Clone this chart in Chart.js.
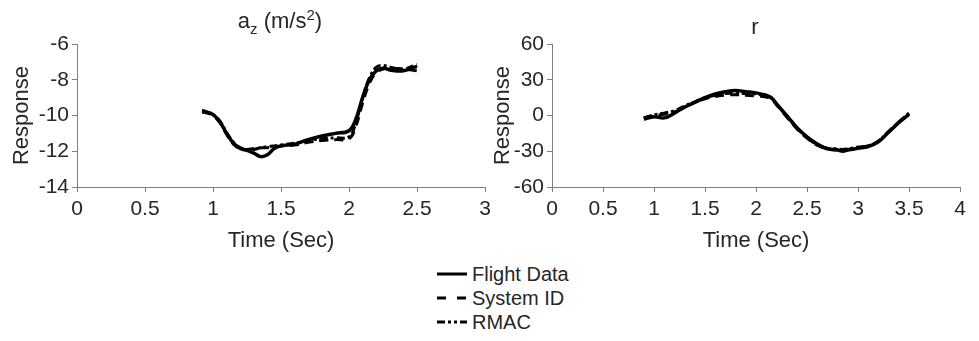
<!DOCTYPE html>
<html>
<head>
<meta charset="utf-8">
<script src="https://cdn.jsdelivr.net/npm/chart.js@4/dist/chart.umd.min.js"></script>
<style>
  body { margin: 0; background: #fff; font-family: "Liberation Sans", Arial, sans-serif; color: #262626; }
  #wrap { position: relative; width: 979px; height: 341px; overflow: hidden; }
  .box { position: absolute; top: 0; height: 260px; }
  .ttl { position: absolute; font-size: 22px; white-space: nowrap; transform: translateX(-50%); }
  .ttl sub, .ttl sup { font-size: 15px; }
  #legend { position: absolute; left: 436px; top: 262px; font-size: 20px; }
  #legend div { height: 24px; line-height: 24px; display: flex; align-items: center; }
  #legend svg { margin-right: 4px; }
</style>
</head>
<body>
<div id="wrap">
  <div class="box" style="left:0;width:500px"><canvas id="cAz"></canvas></div>
  <div class="box" style="left:490px;width:489px"><canvas id="cR"></canvas></div>
  <div class="ttl" style="left:280px;top:6px">a<sub>z</sub> (m/s<sup>2</sup>)</div>
  <div class="ttl" style="left:755px;top:14px">r</div>
  <div id="legend">
    <div><svg width="32" height="6"><line x1="1" y1="3" x2="31" y2="3" stroke="#000" stroke-width="3"/></svg>Flight Data</div>
    <div><svg width="32" height="6"><line x1="1" y1="3" x2="31" y2="3" stroke="#000" stroke-width="3" stroke-dasharray="9,11"/></svg>System ID</div>
    <div><svg width="32" height="6"><line x1="1" y1="3" x2="31" y2="3" stroke="#000" stroke-width="3" stroke-dasharray="8,3,3,3,3,3"/></svg>RMAC</div>
  </div>
</div>
<script>
// a_z panel
var timeAz = [0.92, 0.95, 1.0, 1.05, 1.1, 1.15, 1.2, 1.25, 1.3, 1.35, 1.4, 1.45, 1.5, 1.6, 1.7, 1.8, 1.9, 2.0, 2.05, 2.1, 2.15, 2.2, 2.25, 2.3, 2.4, 2.5];
var flightAz = [-9.75, -9.8, -9.95, -10.35, -11.0, -11.55, -11.85, -11.95, -12.1, -12.3, -12.2, -11.85, -11.7, -11.6, -11.35, -11.15, -11.0, -10.85, -10.2, -9.0, -8.0, -7.5, -7.35, -7.45, -7.5, -7.25];
var sysIdAz = [-9.8, -9.85, -10.0, -10.4, -11.05, -11.6, -11.85, -11.9, -11.85, -11.8, -11.8, -11.75, -11.7, -11.65, -11.5, -11.4, -11.35, -11.3, -10.6, -9.3, -8.2, -7.6, -7.4, -7.35, -7.4, -7.5];
var rmacAz = [-9.7, -9.8, -9.95, -10.3, -10.95, -11.5, -11.8, -11.9, -11.9, -11.8, -11.75, -11.7, -11.65, -11.55, -11.4, -11.3, -11.25, -11.2, -10.4, -9.0, -7.9, -7.3, -7.2, -7.3, -7.4, -7.15];

// r panel
var timeR = [0.9, 1.0, 1.1, 1.2, 1.3, 1.4, 1.5, 1.6, 1.7, 1.8, 1.9, 2.0, 2.1, 2.15, 2.2, 2.3, 2.4, 2.5, 2.6, 2.7, 2.8, 2.85, 2.9, 3.0, 3.1, 3.2, 3.3, 3.4, 3.5];
var flightR = [-3, -1, -2, 2, 7, 11, 15, 18, 20, 21, 20, 19, 17, 15, 10, 0, -10, -18, -24, -28, -29, -30, -29, -27.5, -26, -22, -14, -6, 1];
var sysIdR = [-2, 0, 1, 3, 7, 11, 14, 16, 17, 17.5, 17, 16.5, 15.5, 14, 9, -1, -11, -19, -25, -28, -28.5, -29, -28.5, -27, -25.5, -21.5, -13.5, -5.5, 1.5];
var rmacR = [-2, 0.5, 2, 4, 8, 11.5, 15, 17, 18.5, 19, 18.5, 18, 16.5, 14.5, 9.5, -0.5, -10.5, -18.5, -24.5, -27.5, -28, -28.5, -28, -26.5, -25.5, -21.5, -13.5, -5.5, 2];

var xTicksAz = [0, 0.5, 1, 1.5, 2, 2.5, 3];
var yTicksAz = [-14, -12, -10, -8, -6];
var xTicksR = [0, 0.5, 1, 1.5, 2, 2.5, 3, 3.5, 4];
var yTicksR = [-60, -30, 0, 30, 60];

var axisCol = '#7f7f7f';
var txtCol = '#262626';
var fnt = { family: '"Liberation Sans", Arial, sans-serif', size: 21 };

function pts(t, v) {
  return t.map(function (x, i) { return { x: x, y: v[i] }; });
}

function makeSets(t, f, s, r) {
  return [
    { label: 'RMAC', data: pts(t, r), borderColor: '#000', borderWidth: 3, borderDash: [8, 3, 3, 3], pointRadius: 0, tension: 0.4, fill: false },
    { label: 'System ID', data: pts(t, s), borderColor: '#000', borderWidth: 3, borderDash: [9, 6], pointRadius: 0, tension: 0.4, fill: false },
    { label: 'Flight Data', data: pts(t, f), borderColor: '#000', borderWidth: 3.5, pointRadius: 0, tension: 0.4, fill: false }
  ];
}

function plain(v) { return String(v); }

function makeChart(id, sets, xt, yt, yW, padR, titleOff) {
  var xMin = xt[0], xMax = xt[xt.length - 1];
  var yMin = yt[0], yMax = yt[yt.length - 1];
  return new Chart(document.getElementById(id), {
    type: 'line',
    data: { datasets: sets },
    options: {
      responsive: true,
      maintainAspectRatio: false,
      animation: false,
      layout: { padding: { top: 44, right: padR, left: 0, bottom: 0 } },
      plugins: { legend: { display: false }, tooltip: { enabled: false } },
      scales: {
        x: {
          type: 'linear', min: xMin, max: xMax,
          afterBuildTicks: function (ax) { ax.ticks = xt.map(function (v) { return { value: v }; }); },
          afterFit: function (ax) { ax.height = 73; },
          border: { color: axisCol, width: 1 },
          grid: { drawOnChartArea: false, drawTicks: true, tickLength: 5, color: axisCol },
          ticks: { color: txtCol, font: fnt, padding: 5, maxRotation: 0, autoSkip: false, callback: plain },
          title: { display: true, text: 'Time (Sec)', color: txtCol, font: { family: fnt.family, size: 22 }, padding: { top: 0, bottom: 6 } }
        },
        y: {
          min: yMin, max: yMax,
          afterBuildTicks: function (ax) { ax.ticks = yt.map(function (v) { return { value: v }; }); },
          afterFit: function (ax) { ax.width = yW; },
          border: { color: axisCol, width: 1 },
          grid: { drawOnChartArea: false, drawTicks: true, tickLength: 5, color: axisCol },
          ticks: { color: txtCol, font: fnt, padding: 3, autoSkip: false, callback: plain },
          title: { display: true, text: 'Response', color: txtCol, font: { family: fnt.family, size: 22 }, padding: { top: titleOff, bottom: 0 } }
        }
      }
    }
  });
}

makeChart('cAz', makeSets(timeAz, flightAz, sysIdAz, rmacAz), xTicksAz, yTicksAz, 77, 15, 9);
makeChart('cR', makeSets(timeR, flightR, sysIdR, rmacR), xTicksR, yTicksR, 62, 19, 0);
</script>
</body>
</html>
